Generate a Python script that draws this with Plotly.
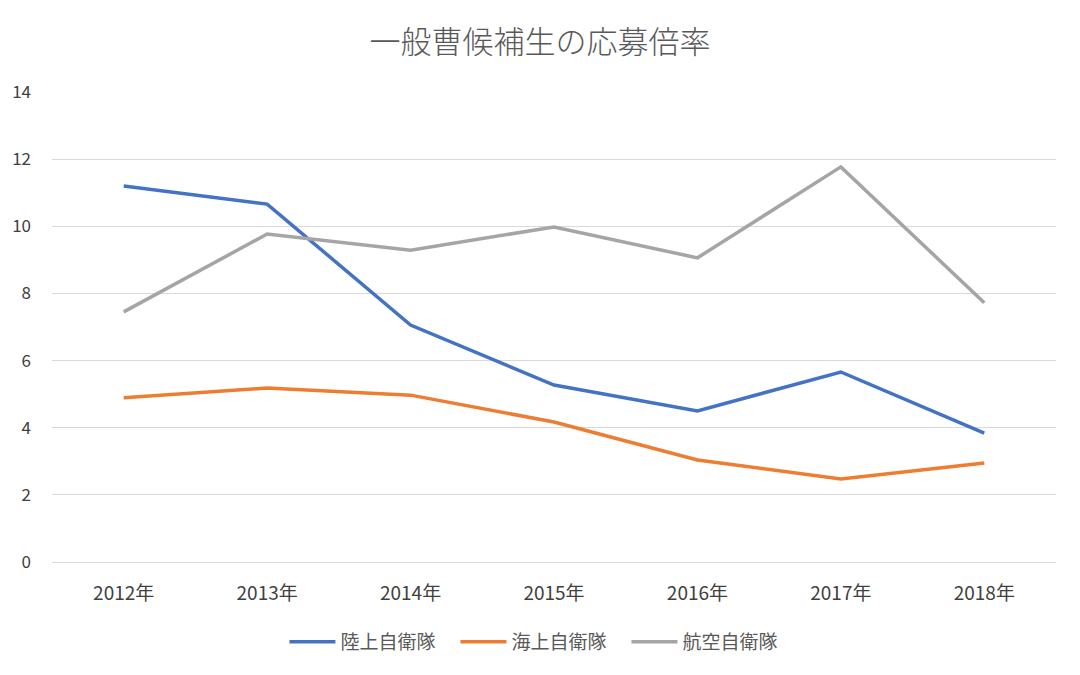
import plotly.graph_objects as go

years = ["2012年", "2013年", "2014年", "2015年", "2016年", "2017年", "2018年"]
riku = [11.2, 10.66, 7.06, 5.27, 4.5, 5.66, 3.84]
kai = [4.89, 5.18, 4.97, 4.17, 3.04, 2.47, 2.95]
koku = [7.45, 9.77, 9.29, 9.98, 9.06, 11.77, 7.72]
names = ["陸上自衛隊", "海上自衛隊", "航空自衛隊"]
colors = ["#4472C4", "#ED7D31", "#A5A5A5"]

font = "Noto Sans CJK JP, Noto Sans, sans-serif"
fig = go.Figure()
for name, vals, c in zip(names, [riku, kai, koku], colors):
    fig.add_trace(go.Scatter(x=years, y=vals, mode="lines", name=name,
                             line=dict(color=c, width=3.5)))

fig.update_layout(
    width=1080, height=675,
    paper_bgcolor="white", plot_bgcolor="white",
    margin=dict(l=44, r=32, t=84, b=121, autoexpand=False),
    title=dict(text="一般曹候補生の応募倍率", x=0.4926, xanchor="center", y=0.9496, yanchor="middle",
               font=dict(family="Noto Sans CJK JP Light, " + font, size=31, color="#595959")),
    font=dict(family=font, color="#595959"),
    legend=dict(orientation="h", x=0.487, xanchor="center", y=-0.170, yanchor="middle",
                font=dict(size=19, color="#595959"), traceorder="normal", itemwidth=46,
                entrywidth=110),
    showlegend=True,
)
fig.update_xaxes(type="category", range=[-0.5, 6.5], showgrid=False, showline=False,
                 automargin=False,
                 ticks="", tickfont=dict(size=19, color="#404040"), ticklabelstandoff=18)
fig.update_yaxes(range=[0, 14], dtick=2, showgrid=True, gridcolor="#D9D9D9", gridwidth=1.3,
                 automargin=False,
                 zeroline=True, zerolinecolor="#D9D9D9", zerolinewidth=1.3,
                 showline=False, ticks="", tickfont=dict(size=17, color="#404040"),
                 ticklabelstandoff=20)
fig.write_html("out.html")
